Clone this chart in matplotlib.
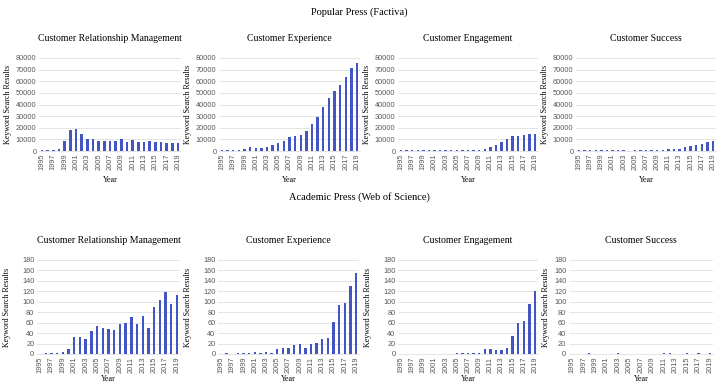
import numpy as np
import matplotlib
matplotlib.use("Agg")
import matplotlib.pyplot as plt

years = list(range(1995, 2020))
topics = ["Customer Relationship Management", "Customer Experience",
          "Customer Engagement", "Customer Success"]

# Popular press (Factiva)
pop_crm = [500, 600, 700, 1500, 8500, 18000, 19000, 14500, 10500, 10000, 9000, 8500,
           8500, 8500, 10500, 7500, 9500, 7500, 7500, 8500, 7500, 7500, 7000, 7000, 7000]
pop_cx = [500, 500, 700, 900, 1500, 3500, 3000, 3000, 3500, 5000, 6500, 9000, 12000,
          12500, 13500, 17500, 23500, 29000, 38000, 45500, 51500, 57000, 64000, 71000, 75500]
pop_ce = [500, 500, 500, 500, 500, 500, 500, 500, 500, 500, 500, 500, 500, 500,
          1000, 2000, 3500, 5000, 8000, 10500, 12500, 12500, 14000, 15000, 15000]
pop_cs = [500, 500, 500, 500, 500, 500, 500, 500, 500, 400, 500, 500, 500, 500,
          1000, 1200, 2000, 2000, 2000, 3500, 4500, 5000, 6000, 7500, 9000]

# Academic press (Web of Science)
aca_crm = [0, 1, 1, 1, 4, 9, 32, 32, 28, 44, 54, 49, 47, 46, 58, 60, 71, 58, 73, 49,
           90, 104, 118, 95, 113]
aca_cx = [0, 2, 0, 1, 1, 2, 3, 2, 3, 2, 10, 12, 12, 17, 19, 12, 19, 21, 28, 30,
          62, 93, 98, 131, 155]
aca_ce = [0, 0, 0, 0, 0, 0, 0, 0, 0, 0, 1, 2, 1, 1, 1, 9, 9, 7, 7, 12,
          35, 59, 64, 95, 121]
aca_cs = [0, 0, 0, 1, 0, 0, 0, 0, 1, 0, 0, 0, 0, 0, 0, 0, 1, 1, 0, 0,
          1, 0, 1, 0, 1]

pop_data = [pop_crm, pop_cx, pop_ce, pop_cs]
aca_data = [aca_crm, aca_cx, aca_ce, aca_cs]

W, H = 718, 382
fig = plt.figure(figsize=(W / 100, H / 100), dpi=100)
bar_col = "#4355c2"
serif = "Liberation Serif"
tick_font = "Liberation Sans"

# first/last bar centres (px) for each panel, plot top/bottom (px)
top_x = [(42, 178), (222, 357), (401, 535), (579, 713)]
bot_x = [(40, 177), (221, 356), (401, 535), (572, 710)]
bot_ypad = [8, 8, 8, 3]


def make_panel(x0, x1, ytop, ybot, vals, title, ymax, ystep, ypad, xpad):
    slot = (x1 - x0) / 24
    left = x0 - slot / 2
    ax = fig.add_axes([left / W, 1 - ybot / H, 25 * slot / W, (ybot - ytop) / H])
    x = np.arange(len(years))
    ax.bar(x, vals, width=0.42, color=bar_col, zorder=3)
    ax.set_xlim(-0.5, 24.5)
    ax.set_ylim(0, ymax)
    ax.set_yticks(np.arange(0, ymax + 1, ystep))
    ax.set_xticks(x[::2])
    ax.set_xticklabels([str(y) for y in years[::2]], rotation=90)
    ax.tick_params(axis="both", length=0, labelsize=5.3, colors="#595959", pad=2)
    for lab in ax.get_xticklabels() + ax.get_yticklabels():
        lab.set_family(tick_font)
    ax.grid(axis="y", color="#d9d9d9", lw=0.5, zorder=0)
    for s in ["top", "right", "left"]:
        ax.spines[s].set_visible(False)
    ax.spines["bottom"].set_color("#d9d9d9")
    ax.spines["bottom"].set_linewidth(0.5)
    ax.set_title(title, family=serif, fontsize=7, pad=12)
    ax.set_ylabel("Keyword Search Results", family=serif, fontsize=5.8, labelpad=ypad)
    ax.set_xlabel("Year", family=serif, fontsize=5.8, labelpad=xpad)
    return ax


for (x0, x1), vals, t in zip(top_x, pop_data, topics):
    make_panel(x0, x1, 58, 151, vals, t, 80000, 10000, 3, 4)
for (x0, x1), vals, t, yp in zip(bot_x, aca_data, topics, bot_ypad):
    make_panel(x0, x1, 260, 354, vals, t, 180, 20, yp, 1)

fig.text(0.5, 1 - 12 / H, "Popular Press (Factiva)", family=serif, fontsize=7.5,
         ha="center", va="center")
fig.text(0.5, 1 - 197 / H, "Academic Press (Web of Science)", family=serif, fontsize=7.5,
         ha="center", va="center")

fig.savefig("out.png", dpi=100)
